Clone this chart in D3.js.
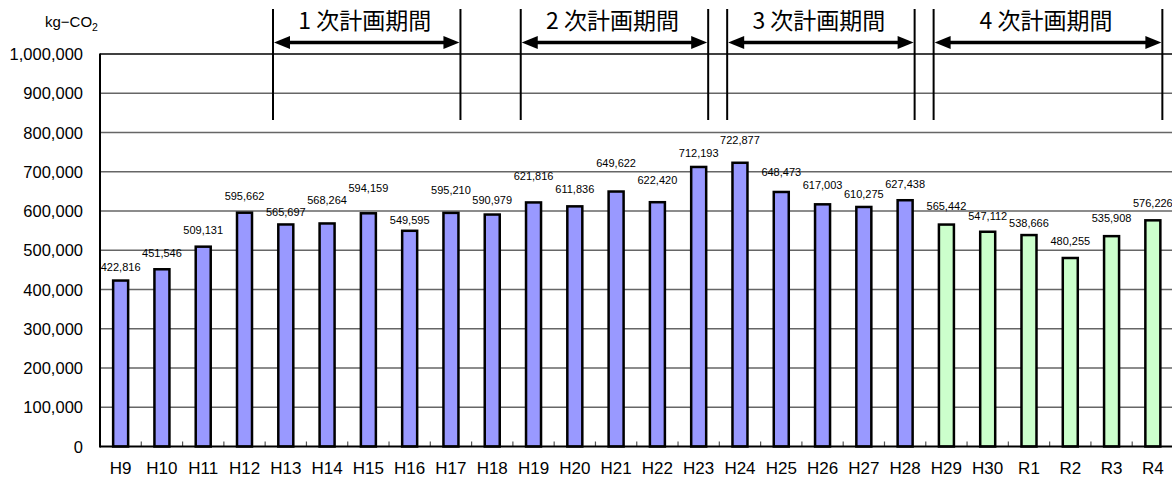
<!DOCTYPE html>
<html lang="ja">
<head>
<meta charset="UTF-8">
<script src="https://d3js.org/d3.v7.min.js"></script>
<style>
    body { margin: 0; background: #fff; overflow: hidden; }
    text { font-family: "Liberation Sans", Arial, sans-serif; fill: #000; }
    .plan { font-family: "Noto Sans CJK JP", sans-serif; }
</style>
</head>
<body>
<div id="chart"></div>
<script>
    // fiscal years
    var years = ["H9", "H10", "H11", "H12", "H13", "H14", "H15", "H16", "H17", "H18",
        "H19", "H20", "H21", "H22", "H23", "H24", "H25", "H26", "H27", "H28",
        "H29", "H30", "R1", "R2", "R3", "R4"];
    // CO2 emissions (kg-CO2)
    var emissions = [422816, 451546, 509131, 595662, 565697, 568264, 594159, 549595, 595210, 590979,
        621816, 611836, 649622, 622420, 712193, 722877, 648473, 617003, 610275, 627438,
        565442, 547112, 538666, 480255, 535908, 576226];
    // first year drawn in green
    var greenFrom = "H29";
    // plan periods
    var periodLabels = ["1 次計画期間", "2 次計画期間", "3 次計画期間", "4 次計画期間"];
    var periodStart = ["H13", "H19", "H24", "H29"];
    var periodEnd = ["H17", "H23", "H28", "R4"];
    // y axis ticks
    var yTicks = [0, 100000, 200000, 300000, 400000, 500000, 600000, 700000, 800000, 900000, 1000000];

    // gap between label baseline and bar top (the original labels were nudged by hand)
    var labelGap = [10, 12, 13, 12.5, 8.5, 19, 21, 7, 19, 11, 22, 13, 24.6, 18, 10, 19, 16, 15, 8.5, 12.7,
        15, 11.5, 8, 13.4, 14, 13.4];

    var W = 1172, H = 477;
    var plotL = 100, plotR = 1173.5, plotT = 54, plotB = 446.5;

    var svg = d3.select("#chart").append("svg")
        .attr("width", W)
        .attr("height", H)
        .style("display", "block");

    var x = d3.scaleBand().domain(years).range([plotL, plotR]).padding(0);
    var y = d3.scaleLinear().domain([0, 1000000]).range([plotB, plotT]);
    var step = x.step();
    var barW = 15;
    var fmt = d3.format(",");

    // gridlines
    svg.append("g")
        .selectAll("line")
        .data(yTicks.slice(1))
        .enter()
        .append("line")
        .attr("x1", plotL).attr("x2", W)
        .attr("y1", function (d) { return y(d); })
        .attr("y2", function (d) { return y(d); })
        .attr("stroke", function (d) { return d === 1000000 ? "#000" : "#666"; })
        .attr("stroke-width", function (d) { return d === 1000000 ? 1.6 : 1.3; });

    // y labels
    svg.append("g")
        .selectAll("text")
        .data(yTicks)
        .enter()
        .append("text")
        .attr("x", 83)
        .attr("y", function (d) { return y(d) + 6; })
        .attr("text-anchor", "end")
        .style("font-size", "16.5px")
        .text(function (d) { return fmt(d); });

    // unit
    var unit = svg.append("text")
        .attr("x", 45).attr("y", 27)
        .style("font-size", "15px");
    unit.append("tspan").text("kg\u2212CO");
    unit.append("tspan").attr("dy", 4).style("font-size", "10.5px").text("2");

    // bottom ticks (inside)
    svg.append("g")
        .selectAll("line")
        .data(years.slice(1))
        .enter()
        .append("line")
        .attr("x1", function (d) { return x(d); })
        .attr("x2", function (d) { return x(d); })
        .attr("y1", plotB)
        .attr("y2", plotB - 5)
        .attr("stroke", "#555")
        .attr("stroke-width", 1.2);

    // bars
    var gi = years.indexOf(greenFrom);
    svg.append("g")
        .selectAll("rect")
        .data(emissions)
        .enter()
        .append("rect")
        .attr("x", function (d, i) { return x(years[i]) + step / 2 - barW / 2; })
        .attr("y", function (d) { return y(d); })
        .attr("width", barW)
        .attr("height", function (d) { return plotB - y(d); })
        .attr("fill", function (d, i) { return i >= gi ? "#CCFFCC" : "#9999FF"; })
        .attr("stroke", "#000")
        .attr("stroke-width", 2.5);

    // value labels
    svg.append("g")
        .selectAll("text")
        .data(emissions)
        .enter()
        .append("text")
        .attr("x", function (d, i) { return x(years[i]) + step / 2; })
        .attr("y", function (d, i) { return y(d) - labelGap[i]; })
        .attr("text-anchor", "middle")
        .style("font-size", "11px")
        .text(function (d) { return fmt(d); });

    // axis lines
    svg.append("line")
        .attr("x1", plotL).attr("x2", plotL)
        .attr("y1", plotT - 0.5).attr("y2", plotB + 1)
        .attr("stroke", "#000").attr("stroke-width", 2);
    svg.append("line")
        .attr("x1", plotL).attr("x2", W)
        .attr("y1", plotB).attr("y2", plotB)
        .attr("stroke", "#000").attr("stroke-width", 2);

    // x labels
    svg.append("g")
        .selectAll("text")
        .data(years)
        .enter()
        .append("text")
        .attr("x", function (d) { return x(d) + step / 2; })
        .attr("y", 474)
        .attr("text-anchor", "middle")
        .style("font-size", "17px")
        .text(function (d) { return d; });

    // plan periods: bracket lines, double arrows and titles
    var arrowY = 42.5, headL = 16, headH = 6.5;
    periodLabels.forEach(function (label, i) {
        var x0 = x(periodStart[i]) + step / 2 - 12.8;
        var x1 = x(periodEnd[i]) + step / 2 + 9.5;
        var g = svg.append("g");
        [x0, x1].forEach(function (xx) {
            g.append("line")
                .attr("x1", xx).attr("x2", xx)
                .attr("y1", 9).attr("y2", 120)
                .attr("stroke", "#000").attr("stroke-width", 2);
        });
        g.append("line")
            .attr("x1", x0 + headL - 2).attr("x2", x1 - headL + 2)
            .attr("y1", arrowY).attr("y2", arrowY)
            .attr("stroke", "#000").attr("stroke-width", 3.5);
        g.append("path")
            .attr("d", "M" + (x0 + 1) + "," + arrowY + "L" + (x0 + 1 + headL) + "," + (arrowY - headH) +
                "L" + (x0 + 1 + headL) + "," + (arrowY + headH) + "Z")
            .attr("fill", "#000");
        g.append("path")
            .attr("d", "M" + (x1 - 1) + "," + arrowY + "L" + (x1 - 1 - headL) + "," + (arrowY - headH) +
                "L" + (x1 - 1 - headL) + "," + (arrowY + headH) + "Z")
            .attr("fill", "#000");
        g.append("text")
            .attr("class", "plan")
            .attr("x", (x0 + x1) / 2 - 2)
            .attr("y", 28.5)
            .attr("text-anchor", "middle")
            .style("font-size", "23px")
            .text(label);
    });
</script>
</body>
</html>
